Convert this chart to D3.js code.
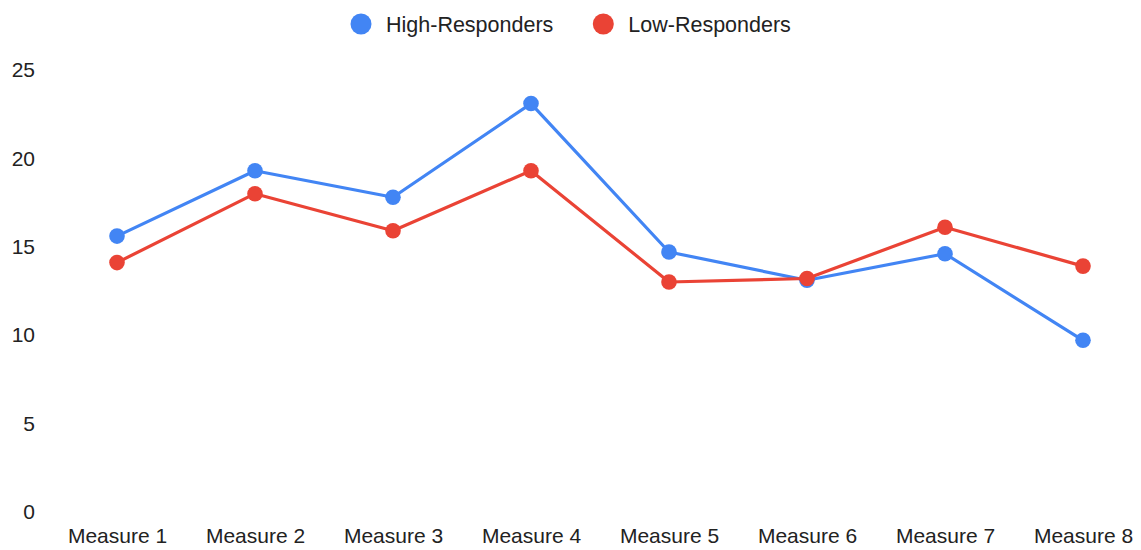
<!DOCTYPE html>
<html>
<head>
<meta charset="utf-8">
<script src="https://cdn.jsdelivr.net/npm/d3@7"></script>
<style>
  html, body { margin: 0; padding: 0; background: #fff; }
  svg { display: block; font-family: "Liberation Sans", Arial, sans-serif; }
</style>
</head>
<body>
<svg id="chart" width="1141" height="550"></svg>
<script>
// Category labels along the x axis
const categories = ["Measure 1", "Measure 2", "Measure 3", "Measure 4",
                    "Measure 5", "Measure 6", "Measure 7", "Measure 8"];

// Series values, one per category
const highResponders = [15.6, 19.3, 17.8, 23.1, 14.7, 13.1, 14.6, 9.7];
const lowResponders  = [14.1, 18.0, 15.9, 19.3, 13.0, 13.2, 16.1, 13.9];

// Series names and y-axis tick values
const seriesNames = ["High-Responders", "Low-Responders"];
const yTicks = [0, 5, 10, 15, 20, 25];

const colors = ["#4285F4", "#EA4335"];
const series = [highResponders, lowResponders].map((values, i) => ({
  name: seriesNames[i],
  color: colors[i],
  values
}));

const svg = d3.select("#chart");
const textColor = "#222";
const fontSize = 21;

const x = d3.scalePoint().domain(categories).range([117, 1083]);
const y = d3.scaleLinear().domain([0, 25]).range([511.7, 70]);

// Y axis labels (no line, no ticks)
const yAxis = svg.append("g")
  .attr("transform", "translate(35,0)")
  .call(d3.axisLeft(y).tickValues(yTicks).tickSize(0).tickPadding(0).tickFormat(d3.format("d")));
yAxis.select(".domain").remove();
yAxis.selectAll("text").attr("fill", textColor).style("font-size", fontSize + "px")
  .style("font-family", "'Liberation Sans', Arial, sans-serif");

// X axis labels
const xAxis = svg.append("g")
  .attr("transform", "translate(0,527.6)")
  .call(d3.axisBottom(x).tickSize(0).tickPadding(0));
xAxis.select(".domain").remove();
xAxis.selectAll("text").attr("fill", textColor).style("font-size", fontSize + "px")
  .style("font-family", "'Liberation Sans', Arial, sans-serif");

// Lines
const line = d3.line()
  .x((d, i) => x(categories[i]))
  .y(d => y(d));

const seriesG = svg.append("g").selectAll("g.series")
  .data(series)
  .join("g")
  .attr("class", "series");

seriesG.append("path")
  .attr("d", s => line(s.values))
  .attr("fill", "none")
  .attr("stroke", s => s.color)
  .attr("stroke-width", 3.2)
  .attr("stroke-linejoin", "round");

seriesG.selectAll("circle")
  .data(s => s.values.map((v, i) => ({ v, i, color: s.color })))
  .join("circle")
  .attr("cx", d => x(categories[d.i]))
  .attr("cy", d => y(d.v))
  .attr("r", 7.8)
  .attr("fill", d => d.color);

// Legend
const legendPos = [361, 603.3];
const legend = svg.append("g").selectAll("g.legend")
  .data(series)
  .join("g")
  .attr("class", "legend")
  .attr("transform", (d, i) => `translate(${legendPos[i]},24)`);

legend.append("circle")
  .attr("r", 10.5)
  .attr("fill", d => d.color);

legend.append("text")
  .attr("x", 25)
  .attr("dy", "0.35em")
  .attr("fill", textColor)
  .style("font-size", "21.5px")
  .text(d => d.name);
</script>
</body>
</html>
